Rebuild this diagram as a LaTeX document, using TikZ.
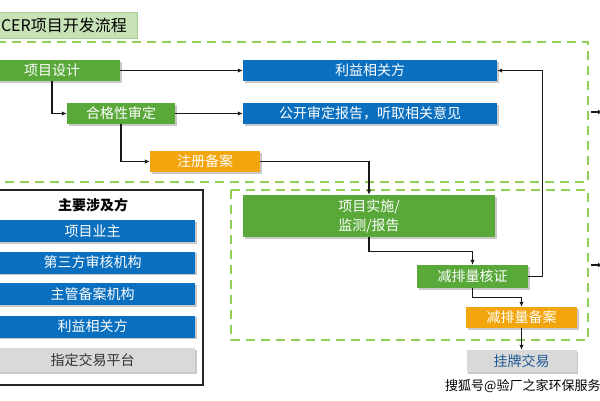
\documentclass[tikz,border=0pt]{standalone}
\usepackage{fontspec}
\newfontfamily\cjk{Noto Sans CJK SC}
\usetikzlibrary{shadows,arrows.meta}
\definecolor{gbox}{HTML}{59A83A}
\definecolor{bbox}{HTML}{0A6FBE}
\definecolor{obox}{HTML}{F2A50C}
\definecolor{gray1}{HTML}{D9D9D9}
\definecolor{dgreen}{HTML}{92CF55}
\definecolor{tfill}{HTML}{C7E2B6}
\definecolor{tline}{HTML}{A6CF8C}
\definecolor{tblue}{HTML}{1F5A96}
\tikzset{
  every node/.style={font=\cjk},
  flowbox/.style={rectangle, inner sep=0pt, minimum height=21pt, text=white,
    font=\cjk\fontsize{14}{16}\selectfont,
    drop shadow={shadow xshift=1.5pt, shadow yshift=-1.5pt, fill=black!35, opacity=0.6}},
  greenbox/.style={flowbox, fill=gbox},
  bluebox/.style={flowbox, fill=bbox},
  orangebox/.style={flowbox, fill=obox},
  graybox/.style={flowbox, fill=gray1},
  arr/.style={draw=black!90, line width=1.3pt, -{Latex[length=5pt,width=4.5pt]}},
  zone/.style={draw=dgreen, line width=2.6pt, dash pattern=on 9pt off 6pt},
}
\begin{document}
\begin{tikzpicture}[x=1pt,y=-1pt]
\useasboundingbox (0,0) rectangle (600,400);
\clip (0,0) rectangle (600,400);
\fill[white] (0,0) rectangle (600,400);

% title
\draw[fill=tfill, draw=tline, line width=0.8pt] (-3,12) rectangle (137,38);
\node[anchor=east, inner sep=0pt, font=\cjk\fontsize{16}{18}\selectfont] (title) at (127,25.5) {CER项目开发流程};

% dashed zones
\draw[zone] (-5,42) rectangle (588,182);
\draw[zone] (231,190) rectangle (588,340);

% flow nodes
\node[greenbox, minimum width=136pt] (d1) at (52,70.5) {项目设计};
\node[bluebox, minimum width=254pt] (b1) at (370,70.5) {利益相关方};
\node[greenbox, minimum width=108pt] (d2) at (121,113.5) {合格性审定};
\node[bluebox, minimum width=254pt] (b2) at (370,113.5) {公开审定报告，听取相关意见};
\node[orangebox, minimum width=110pt] (r1) at (205,161.5) {注册备案};
\node[greenbox, minimum width=252pt, minimum height=42pt, align=left, font=\cjk\fontsize{14}{19}\selectfont] (s1) at (369,216) {项目实施/\\监测/报告};
\node[greenbox, minimum width=111pt, minimum height=23pt] (v1) at (472.5,276.5) {减排量核证};
\node[orangebox, minimum width=111pt] (r2) at (521.5,317.5) {减排量备案};
\node[graybox, minimum width=110pt, minimum height=22pt, text=tblue] (t1) at (521.5,361) {挂牌交易};

% connectors
\draw[arr] (d1.east) -- (b1.west);
\draw[arr] (d1.south) |- (d2.west);
\draw[arr] (d2.east) -- (b2.west);
\draw[arr] (d2.south) |- (r1.west);
\draw[arr] (r1.east) -| (s1.north);
\draw[arr] (s1.south) -- ++(0,14) -| (v1.north);
\draw[arr] (v1.east) -- ++(14,0) |- (b1.east);
\draw[arr] (v1.south) -- ++(0,9) -| (r2.north);
\draw[arr] (r2.south) -- (t1.north);

% exits on the right
\coordinate (e1a) at (591,112);
\coordinate (e1b) at (603,112);
\coordinate (e2a) at (591,265);
\coordinate (e2b) at (603,265);
\draw[arr] (e1a) -- (e1b);
\draw[arr] (e2a) -- (e2b);

% parties panel
\draw[black!85, line width=1.2pt] (-5,190) rectangle (203,385);
\node[font=\cjk\bfseries\fontsize{14}{16}\selectfont] (ptitle) at (93,205) {主要涉及方};
\node[bluebox, minimum width=205pt, minimum height=22pt] (p1) at (92.5,231) {项目业主};
\node[bluebox, minimum width=205pt, minimum height=22pt] (p2) at (92.5,262.5) {第三方审核机构};
\node[bluebox, minimum width=205pt, minimum height=22pt] (p3) at (92.5,294) {主管备案机构};
\node[bluebox, minimum width=205pt, minimum height=22pt] (p4) at (92.5,326.5) {利益相关方};
\node[graybox, minimum width=205pt, minimum height=24pt, text=black!80] (p5) at (92.5,360) {指定交易平台};

% watermark
\node[anchor=west, inner sep=0pt, font=\cjk\fontsize{13}{15}\selectfont] (wm) at (445,386) {搜狐号@验厂之家环保服务};
\end{tikzpicture}
\end{document}
